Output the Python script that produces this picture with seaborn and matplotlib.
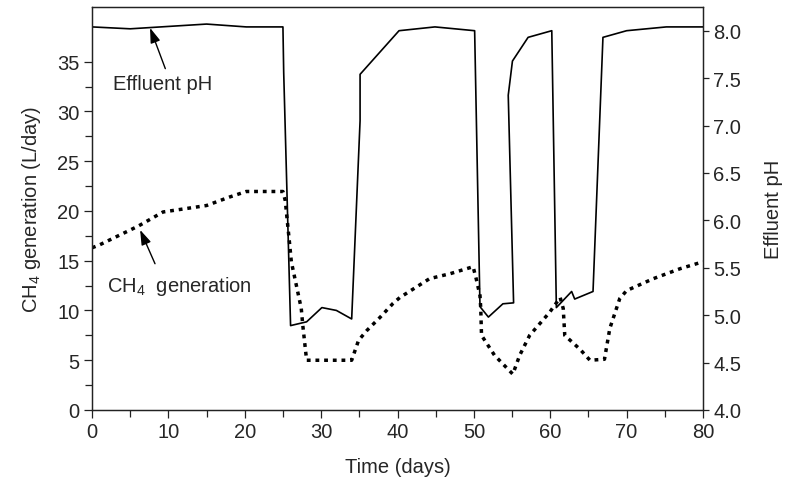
import numpy as np
import pandas as pd
import matplotlib
matplotlib.use("Agg")
import matplotlib.pyplot as plt
import seaborn as sns
from matplotlib.ticker import MultipleLocator, FixedLocator, FormatStrFormatter

# -----------------------------
# DATA
# -----------------------------
ph_days = [0, 5, 15, 20.2, 25, 25.1, 26, 28.1, 30.1, 32, 34, 35.1, 35.1, 40.2,
           44.9, 50.1, 50.8, 51.9, 53.8, 55.2, 54.5, 55.05, 57.1, 60.2, 60.8,
           62.8, 63.2, 65.6, 66.9, 70, 75.2, 80]
ph_vals = [8.04, 8.02, 8.07, 8.04, 8.04, 7.56, 4.89, 4.93, 5.08, 5.05, 4.96, 7.05, 7.54, 8.0,
           8.04, 8.0, 5.09, 4.98, 5.12, 5.13, 7.32, 7.68, 7.93, 8.0, 5.08,
           5.25, 5.17, 5.25, 7.93, 8.0, 8.04, 8.04]

ch4_days = [0, 1, 6.1, 9.3, 15, 18, 20.2, 25, 25.3, 25.9, 26.1, 27.4, 27.6, 28.1,
            34.0, 34.9, 36, 37.7, 39.4, 40.3, 44.2, 46.9, 49.9, 50.3, 50.8, 50.9,
            51.0, 52.7, 55.1, 56, 57.3, 59.9, 61.3, 61.7, 61.9, 63.9, 65.2, 67.1,
            67.8, 69.1, 70, 73.5, 77, 80]
ch4_vals = [16.3, 16.6, 18.5, 19.9, 20.55, 21.4, 21.96, 21.96, 21.06, 16.5, 14.9, 10.2, 8.5, 5.0,
            5.0, 7.0, 8.0, 9.3, 10.7, 11.3, 13.2, 13.7, 14.4, 13.2, 11.5, 10.2,
            7.5, 5.5, 3.6, 5.5, 7.5, 9.8, 11.3, 10.2, 7.5, 6.1, 5.0, 5.1,
            8.2, 11.2, 12.0, 13.2, 14.2, 14.9]

left_ticks = [0, 5, 10, 15, 20, 25, 30, 35]
left_minor = [2.5, 7.5, 12.5, 17.5, 22.5, 27.5, 32.5]

ph_df = pd.DataFrame({"day": ph_days, "ph": ph_vals})
ch4_df = pd.DataFrame({"day": ch4_days, "ch4": ch4_vals})

# -----------------------------
# STYLE
# -----------------------------
sns.set_style("ticks")
plt.rcParams["font.family"] = ["Liberation Sans", "DejaVu Sans"]
plt.rcParams["mathtext.default"] = "regular"
plt.rcParams["axes.linewidth"] = 0.9
plt.rcParams["axes.edgecolor"] = "#222222"

FS = 14.5

fig = plt.figure(figsize=(7.85, 4.81), dpi=100)
ax = fig.add_axes([92 / 785, 1 - 411 / 481, (703 - 92) / 785, (411 - 8) / 481])
ax2 = ax.twinx()

# CH4 generation (left axis, dotted)
sns.lineplot(data=ch4_df, x="day", y="ch4", ax=ax, sort=False, estimator=None,
             color="black", linewidth=2.5, linestyle=(0, (1.1, 1.4)))

# Effluent pH (right axis, solid)
sns.lineplot(data=ph_df, x="day", y="ph", ax=ax2, sort=False, estimator=None,
             color="black", linewidth=1.2)

# -----------------------------
# AXES
# -----------------------------
ax.set_xlim(0, 80)
ax.set_ylim(0, 40.5)
ax2.set_ylim(4.0, 8.25)

ax.xaxis.set_major_locator(MultipleLocator(10))
ax.xaxis.set_minor_locator(MultipleLocator(5))
ax.yaxis.set_major_locator(FixedLocator(left_ticks))
ax.yaxis.set_minor_locator(FixedLocator(left_minor))
ax2.yaxis.set_major_locator(MultipleLocator(0.5))
ax2.yaxis.set_major_formatter(FormatStrFormatter("%.1f"))

ax.tick_params(axis="both", which="major", direction="out", length=6, width=0.9,
               labelsize=FS, pad=3, color="#222222")
ax.tick_params(axis="both", which="minor", direction="out", length=5, width=0.9,
               color="#222222")
ax2.tick_params(axis="y", which="major", direction="out", length=4.5, width=0.9,
                labelsize=FS, pad=3, color="#222222")

ax.set_xlabel("Time (days)", fontsize=FS, labelpad=11)
ax.set_ylabel("CH$_4$ generation (L/day)", fontsize=FS, labelpad=10)
ax2.set_ylabel("Effluent pH", fontsize=FS, rotation=90, labelpad=16)

for a in (ax, ax2):
    for s in a.spines.values():
        s.set_visible(True)

# -----------------------------
# ANNOTATIONS
# -----------------------------
arrow = dict(arrowstyle="-|>,head_length=0.9,head_width=0.3", color="black",
             lw=1.0, shrinkA=0, shrinkB=0)

ax2.annotate("", xy=(7.6, 8.03), xytext=(9.6, 7.6), arrowprops=arrow)
ax2.text(2.75, 7.38, "Effluent pH", fontsize=FS, ha="left", va="baseline")

ax.annotate("", xy=(6.3, 18.1), xytext=(8.25, 14.7), arrowprops=arrow)
ax.text(1.9, 12.0, "CH$_4$  generation", fontsize=FS, ha="left", va="baseline")

plt.savefig("out.png", dpi=100)
